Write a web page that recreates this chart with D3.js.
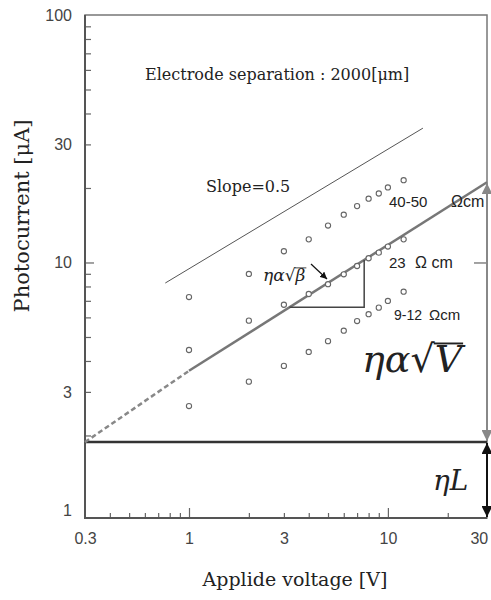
<!DOCTYPE html>
<html>
<head>
<meta charset="utf-8">
<script src="https://cdn.jsdelivr.net/npm/d3@7"></script>
<style>
body { margin:0; background:#fff; }
svg { display:block; }
</style>
</head>
<body>
<svg id="d3" width="491" height="600"></svg>
<script>
// measured data
var voltage = [1, 2, 3, 4, 5, 6, 7, 8, 9, 10, 12];
var series_hi = [7.25, 8.99, 11.1, 12.4, 14.1, 15.6, 16.9, 18.1, 19.0, 20.1, 21.5];   // 40-50 ohm cm
var series_mid = [4.43, 5.82, 6.75, 7.46, 8.17, 8.96, 9.68, 10.4, 10.96, 11.6, 12.4]; // 23 ohm cm
var series_lo = [2.63, 3.30, 3.82, 4.35, 4.81, 5.30, 5.80, 6.18, 6.57, 6.99, 7.62];  // 9-12 ohm cm

var fit_v = [0.3, 1, 31.5];
var fit_i = [1.88, 3.65, 21.1];
var slope_v = [0.76, 15];
var slope_i = [8.26, 34.9];
var eta_L = 1.88;
var tri_v = [3.2, 7.6];

var x_labels = [0.3, 1, 3, 10, 30];
var x_minor = [0.4, 0.5, 0.6, 0.7, 0.8, 0.9, 2, 3, 4, 5, 6, 7, 8, 9, 20];
var x_major = [1, 10];
var y_labels = [1, 3, 10, 30, 100];
var y_minor = [2, 3, 4, 5, 6, 7, 8, 9, 20, 30, 40, 50, 60, 70, 80, 90];
var y_major = [10];

var svg = d3.select('#d3');
var pLeft = 85, pRight = 487, pTop = 15, pBottom = 518;

var x = d3.scaleLog().domain([0.3, 31.5]).range([pLeft, pRight]);
var y = d3.scaleLog().domain([0.928, 100]).range([pBottom, pTop]);

var serif = '"DejaVu Serif", "Liberation Serif", serif';
var sans = '"Liberation Sans", Arial, sans-serif';

var defs = svg.append('defs');
function marker(id, color, size){
	defs.append('marker')
		.attr('id', id)
		.attr('viewBox', '0 0 10 10')
		.attr('refX', 10).attr('refY', 5)
		.attr('markerWidth', size).attr('markerHeight', size)
		.attr('markerUnits', 'userSpaceOnUse')
		.attr('orient', 'auto-start-reverse')
	  .append('path')
		.attr('d', 'M0,0 L10,5 L0,10 Z')
		.attr('fill', color);
}
marker('arrGray', '#888', 11);
marker('arrBlack', '#111', 11);
marker('arrSmall', '#111', 7);

//Ticks (inside)
function tickAxis(gen, values, size, tr){
	var g = svg.append('g').attr('transform', tr)
		.call(gen.tickValues(values).tickSize(size).tickFormat(''));
	g.select('.domain').remove();
	g.selectAll('line').attr('stroke', '#666').attr('stroke-width', 1.2);
}
tickAxis(d3.axisBottom(x), x_minor, -5, 'translate(0,' + pBottom + ')');
tickAxis(d3.axisBottom(x), x_major, -10, 'translate(0,' + pBottom + ')');
tickAxis(d3.axisLeft(y), y_minor, -6, 'translate(' + pLeft + ',0)');
tickAxis(d3.axisLeft(y), y_major, -9, 'translate(' + pLeft + ',0)');
tickAxis(d3.axisRight(y), y_major, -13, 'translate(' + pRight + ',0)');

//Tick labels
var fmt = function(d){ return d; };
var xl = svg.append('g').attr('transform', 'translate(0,' + pBottom + ')')
	.call(d3.axisBottom(x).tickValues(x_labels).tickSize(0).tickPadding(15).tickFormat(fmt));
var yl = svg.append('g').attr('transform', 'translate(' + pLeft + ',0)')
	.call(d3.axisLeft(y).tickValues(y_labels).tickSize(0).tickPadding(13).tickFormat(fmt));
[xl, yl].forEach(function(g){
	g.select('.domain').remove();
	g.selectAll('text').attr('font-family', sans).attr('font-size', 16).attr('fill', '#444');
});
// keep the last x label inside the page
xl.selectAll('text').filter(function(d){ return d == 30; }).attr('dx', -4);

//Frame
svg.append('rect')
	.attr('x', pLeft).attr('y', pTop)
	.attr('width', pRight - pLeft).attr('height', pBottom - pTop)
	.attr('fill', 'none').attr('stroke', '#777').attr('stroke-width', 1.5);
svg.append('path')
	.attr('d', 'M' + pLeft + ',' + pTop + 'V' + pBottom + 'H' + pRight)
	.attr('fill', 'none').attr('stroke', '#555').attr('stroke-width', 2);

//Slope=0.5 reference line
var line = d3.line().x(function(d){ return x(d[0]); }).y(function(d){ return y(d[1]); });
svg.append('path')
	.attr('d', line(d3.zip(slope_v, slope_i)))
	.attr('stroke', '#555').attr('stroke-width', 1).attr('fill', 'none');

//eta L level
svg.append('line')
	.attr('x1', x(0.3)).attr('x2', pRight)
	.attr('y1', y(eta_L)).attr('y2', y(eta_L))
	.attr('stroke', '#333').attr('stroke-width', 2.5);

//fitted sqrt(V) line : dashed then solid
var fit = d3.zip(fit_v, fit_i);
svg.append('path')
	.attr('d', line(fit.slice(0, 2)))
	.attr('stroke', '#888').attr('stroke-width', 2.5)
	.attr('stroke-dasharray', '5,3').attr('fill', 'none');
svg.append('path')
	.attr('d', line(fit.slice(1)))
	.attr('stroke', '#777').attr('stroke-width', 2.5).attr('fill', 'none');

// triangle under the line
function fitAt(v){
	var a = Math.log(fit_i[2] / fit_i[1]) / Math.log(fit_v[2] / fit_v[1]);
	return fit_i[1] * Math.pow(v / fit_v[1], a);
}
svg.append('path')
	.attr('d', 'M' + x(tri_v[0]) + ',' + y(fitAt(tri_v[0])) +
		'H' + x(tri_v[1]) + 'V' + y(fitAt(tri_v[1])))
	.attr('stroke', '#444').attr('stroke-width', 1.5).attr('fill', 'none');

//Arrows on right side
svg.append('line')
	.attr('x1', pRight).attr('x2', pRight)
	.attr('y1', y(fit_i[2]) + 1).attr('y2', y(eta_L) - 1)
	.attr('stroke', '#888').attr('stroke-width', 2)
	.attr('marker-start', 'url(#arrGray)').attr('marker-end', 'url(#arrGray)');
svg.append('line')
	.attr('x1', pRight).attr('x2', pRight)
	.attr('y1', y(eta_L) + 1).attr('y2', pBottom - 1)
	.attr('stroke', '#111').attr('stroke-width', 2)
	.attr('marker-start', 'url(#arrBlack)').attr('marker-end', 'url(#arrBlack)');

//Create Circles
[series_hi, series_mid, series_lo].forEach(function(s){
	svg.append('g').selectAll('circle')
		.data(d3.zip(voltage, s))
	  .enter().append('circle')
		.attr('cx', function(d){ return x(d[0]); })
		.attr('cy', function(d){ return y(d[1]); })
		.attr('r', 2.6)
		.attr('fill', '#fff')
		.attr('stroke', '#666')
		.attr('stroke-width', 1.1);
});

//Texts
function txt(s, px, py, size, fam){
	return svg.append('text')
		.attr('x', px).attr('y', py)
		.attr('font-family', fam).attr('font-size', size)
		.attr('fill', '#222').text(s);
}
txt('Electrode separation : 2000[\u03bcm]', 145, 80, 16, serif);
txt('Slope=0.5', 206, 192, 16, serif);

txt('40-50', 389, 207, 15, sans);
txt('\u03a9cm', 451, 207, 16, sans);
txt('23', 389, 268, 15, sans);
txt('\u03a9 cm', 415, 268, 16, sans);
txt('9-12', 394, 320, 14, sans);
txt('\u03a9cm', 429, 320, 15, sans);

// axis titles
txt('Applide voltage [V]', 295, 586, 19, serif).attr('text-anchor', 'middle');
txt('Photocurrent [\u03bcA]', 0, 0, 21, serif)
	.attr('text-anchor', 'middle')
	.attr('transform', 'translate(29,216) rotate(-90)');

// formula with radical and overbar
function formula(px, py, size, radicand){
	var t = svg.append('text')
		.attr('x', px).attr('y', py)
		.attr('font-family', serif).attr('font-size', size).attr('fill', '#222');
	t.append('tspan').attr('font-style', 'italic').text('\u03b7\u03b1');
	t.append('tspan').text('\u221a');
	t.append('tspan').attr('font-style', 'italic').text(radicand);
	var node = t.node();
	var r = node.getExtentOfChar(2);
	var v = node.getExtentOfChar(3);
	svg.append('line')
		.attr('x1', r.x + r.width - 1).attr('x2', v.x + v.width + 1)
		.attr('y1', r.y + size * 0.17).attr('y2', r.y + size * 0.17)
		.attr('stroke', '#222').attr('stroke-width', size * 0.05);
	return t;
}
formula(263, 281, 17, '\u03b2');
formula(362, 372, 38, 'V');

txt('\u03b7L', 433, 490, 28, serif).attr('font-style', 'italic');

// small arrow pointing at the line
svg.append('line')
	.attr('x1', 311).attr('y1', 264).attr('x2', 327).attr('y2', 279)
	.attr('stroke', '#111').attr('stroke-width', 1.2)
	.attr('marker-end', 'url(#arrSmall)');
</script>
</body>
</html>
